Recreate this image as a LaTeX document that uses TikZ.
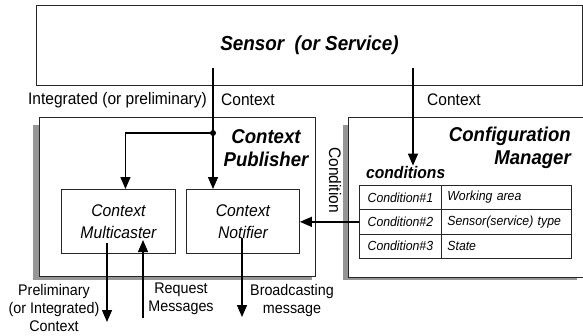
\documentclass[tikz,border=0pt]{standalone}
\usepackage{fontspec}
\setmainfont[FakeStretch=0.93]{Liberation Sans}
\usetikzlibrary{arrows.meta}
\definecolor{shadowgray}{RGB}{150,150,150}
\begin{document}
\begin{tikzpicture}[x=1pt,y=-1pt,
  box/.style={draw=black!85, line width=0.9pt, fill=white, inner sep=0pt, anchor=north west},
  shade/.style={fill=shadowgray},
  wire/.style={line width=1.3pt},
  conn/.style={line width=1.3pt, -{Triangle[length=12pt,width=10pt]}},
  lbl/.style={inner sep=0pt, font=\fontsize{16.7}{19}\selectfont},
  small/.style={inner sep=0pt, align=center, font=\fontsize{15.4}{18}\selectfont},
  title/.style={inner sep=0pt, font=\fontsize{20}{23}\selectfont\bfseries\itshape},
  inner/.style={box, align=center, font=\fontsize{16.9}{22}\selectfont\itshape},
  cellA/.style={draw=black!85, line width=0.8pt, anchor=north west, minimum height=24.3pt,
    inner ysep=0pt, inner xsep=5pt, text width=72pt, align=center, font=\fontsize{13.2}{15}\selectfont\itshape},
  cellB/.style={draw=black!85, line width=0.8pt, anchor=north west, minimum height=24.3pt,
    inner ysep=0pt, inner xsep=6pt, text width=118pt, align=left, font=\fontsize{13.2}{15}\selectfont\itshape}
]
\useasboundingbox (0,0) rectangle (583,335);

% Sensor box
\node[box, minimum width=546pt, minimum height=80pt, font=\fontsize{20.3}{23}\selectfont\bfseries\itshape]
  (sensor) at (36,5) {Sensor\ \ (or Service)};

% Context Publisher with shadow
\fill[shade] (33,125) rectangle (312,280);
\node[box, minimum width=276pt, minimum height=159pt] (publisher) at (39,117) {};
\node[title, align=center] (pubtitle) at (266,148.5) {Context\\Publisher};

% Configuration Manager with shadow
\fill[shade] (343,125) rectangle (577,280);
\node[box, minimum width=240pt, minimum height=160pt] (config) at (348,117) {};
\node[title, align=right, anchor=east] (cfgtitle) at (571,148) {Configuration\\Manager};
\node[inner sep=0pt, anchor=west, font=\fontsize{16.8}{18}\selectfont\bfseries\itshape] (conditions) at (366,172) {conditions};

% Condition (rotated)
\node[lbl, rotate=-90] (condlbl) at (335,180) {Condition};

% inner boxes
\node[inner, minimum width=114pt, minimum height=64pt] (multicaster) at (61,189) {Context\\Multicaster};
\node[inner, minimum width=113pt, minimum height=64pt] (notifier) at (186,189) {Context\\Notifier};

% table
\node[cellA] (c11) at (359,185) {Condition\#1};
\node[cellB] (c12) at (441,185) {Working area};
\node[cellA] (c21) at (359,209.3) {Condition\#2};
\node[cellB] (c22) at (441,209.3) {Sensor(service) type};
\node[cellA] (c31) at (359,233.6) {Condition\#3};
\node[cellB] (c32) at (441,233.6) {State};

% labels
\node[lbl, anchor=east] (intlbl) at (207,100) {Integrated (or preliminary)};
\node[lbl, anchor=west] (ctxlbl1) at (221,100) {Context};
\node[lbl] (ctxlbl2) at (454,100) {Context};
\node[small] (prelbl) at (54,308) {Preliminary\\(or Integrated)\\Context};
\node[small] (reqlbl) at (181,299) {Request\\Messages};
\node[small] (brdlbl) at (292,301) {Broadcasting\\message};

% connector end points
\coordinate (sL) at (213,68);
\coordinate (sR) at (413,68);
\coordinate (j) at (213,133);
\coordinate (mOutS) at (107,243);
\coordinate (mOutE) at (107,322);
\coordinate (reqS) at (143,318);
\coordinate (reqE) at (143,240);
\coordinate (nOutS) at (242,238);
\coordinate (nOutE) at (242,317);

% connectors
\draw[wire] (sL) -- (j);
\draw[conn] (j) -- (j |- notifier.north);
\draw[conn] (j) -| ([xshift=7pt]multicaster.north);
\fill (j) circle (3pt);
\draw[conn] (sR) -- (sR |- conditions.north);
\draw[conn] (c21.west) -- (c21.west -| notifier.east);
\draw[conn] (mOutS) -- (mOutE);
\draw[conn] (reqS) -- (reqE);
\draw[conn] (nOutS) -- (nOutE);
\end{tikzpicture}
\end{document}
